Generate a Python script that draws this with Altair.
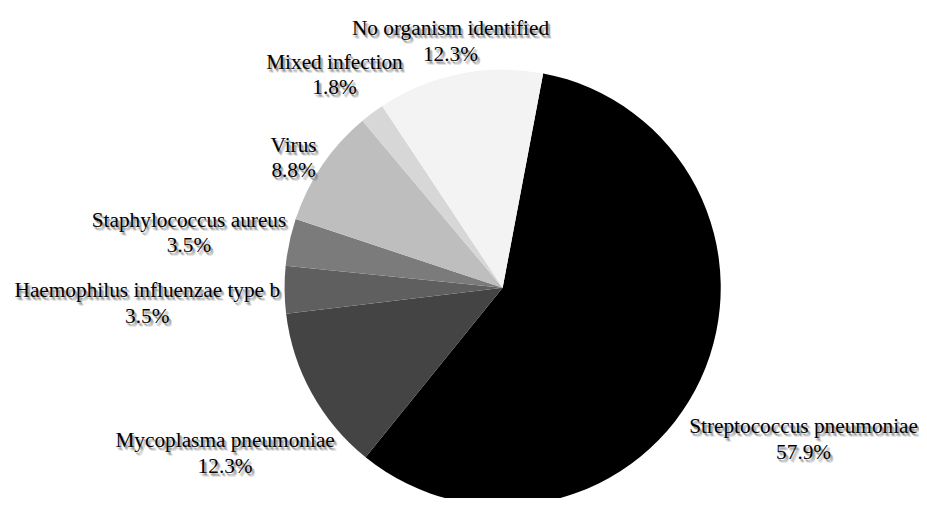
import altair as alt
import pandas as pd
import math

categories = ["Streptococcus pneumoniae", "Mycoplasma pneumoniae", "Haemophilus influenzae type b",
              "Staphylococcus aureus", "Virus", "Mixed infection", "No organism identified"]
percentages = [57.9, 12.3, 3.5, 3.5, 8.8, 1.8, 12.3]
colors = ["#000000", "#444444", "#5f5f5f", "#7b7b7b", "#bebebe", "#d7d7d7", "#f3f3f3"]

start = 10.7 * math.pi / 180.0
total = sum(percentages)

df = pd.DataFrame({
    "idx": list(range(len(categories))),
    "name": categories,
    "value": percentages,
    "label": [f"{c}\n{p:.1f}%" for c, p in zip(categories, percentages)],
})

theta_scale = alt.Scale(domain=[0, total], range=[start, start + 2 * math.pi], zero=True)
color_scale = alt.Scale(domain=categories, range=colors)

pie = alt.Chart(df).mark_arc(outerRadius=220, stroke=None).encode(
    theta=alt.Theta("value:Q", stack=True, scale=theta_scale),
    order=alt.Order("idx:Q"),
    color=alt.Color("name:N", scale=color_scale, legend=None),
)

lab = alt.Chart(df).transform_window(
    cum="sum(value)", sort=[alt.SortField("idx")], frame=[None, 0]
).transform_joinaggregate(
    tot="sum(value)"
).transform_calculate(
    midv="datum.cum - datum.value/2"
).transform_calculate(
    mid=f"{start} + 2*PI*datum.midv/datum.tot"
).transform_calculate(
    lr="222 + length(datum.name)*4.7*abs(sin(datum.mid)) + 24*abs(cos(datum.mid))"
).encode(
    theta=alt.Theta("midv:Q", stack=None, scale=theta_scale),
    radius=alt.Radius("lr:Q", scale=None),
    text="label:N",
)

text_props = dict(font="Liberation Serif", fontSize=21.5, lineBreak="\n", lineHeight=26,
                  align="center", baseline="middle")

shadows = []
for (ox, oy, op) in [(1, 2, 0.22), (2, 3, 0.22), (3, 4, 0.16), (2, 2, 0.14), (3, 3, 0.12)]:
    shadows.append(lab.mark_text(dx=ox, dy=oy, color="#555555", opacity=op, **text_props))

labels = lab.mark_text(color="#000000", **text_props)

chart = alt.layer(pie, *shadows, labels).properties(
    width=800, height=420,
    padding={"left": 99, "top": 70, "right": 20, "bottom": 0},
    autosize=alt.AutoSizeParams(type="none"),
).configure_view(stroke=None).configure(background="#ffffff")

chart.save("out.html", embed_options={"renderer": "svg", "actions": False})
